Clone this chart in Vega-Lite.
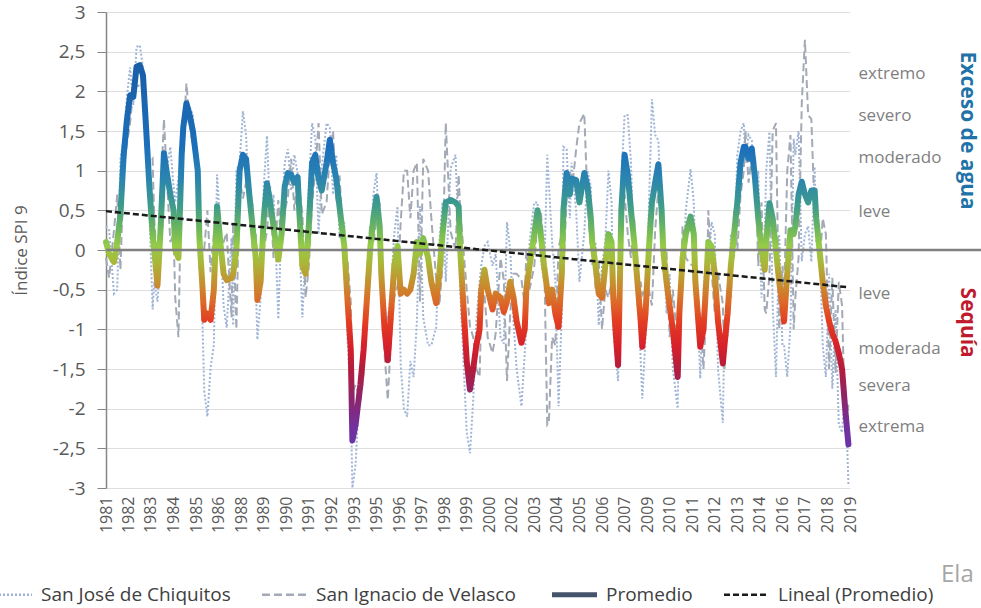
{
"$schema": "https://vega.github.io/schema/vega-lite/v6.json",
"width": 744, "height": 476,
"autosize": "none",
"padding": {"left": 106, "top": 12, "right": 131, "bottom": 120},
"background": "white",
"title": {"text": "Ela", "orient": "bottom", "anchor": "end", "frame": "group", "align": "left", "dx": 91, "offset": -42, "fontSize": 24, "fontWeight": "normal", "color": "#a6a6a6", "font": "Open Sans"},
"data": {"format": {"parse": {"t": "date:'%Y-%m'"}}, "values": [
{"t":"1981-01","p":0.1,"a":0.3,"b":-0.1},
{"t":"1981-03","p":-0.05,"a":0.25,"b":-0.35},
{"t":"1981-06","p":-0.15,"a":-0.55,"b":0.25},
{"t":"1981-08","p":0.1,"a":-0.5,"b":0.7},
{"t":"1981-10","p":0.45,"a":1.15,"b":-0.25},
{"t":"1981-12","p":1.2,"a":1.4,"b":1.0},
{"t":"1982-02","p":1.64,"a":1.94,"b":1.34},
{"t":"1982-04","p":1.95,"a":2.3,"b":1.6},
{"t":"1982-06","p":1.93,"a":1.83,"b":2.03},
{"t":"1982-08","p":2.31,"a":2.56,"b":2.06},
{"t":"1982-10","p":2.33,"a":2.58,"b":2.08},
{"t":"1982-12","p":2.2,"a":2.3,"b":2.1},
{"t":"1983-02","p":1.5,"a":1.8,"b":1.2},
{"t":"1983-04","p":0.8,"a":0.5,"b":1.1},
{"t":"1983-06","p":0.2,"a":-0.75,"b":1.15},
{"t":"1983-07","p":0.0,"a":-0.4,"b":0.4},
{"t":"1983-09","p":-0.45,"a":-0.65,"b":-0.25},
{"t":"1983-11","p":0.3,"a":-0.1,"b":0.7},
{"t":"1984-01","p":1.22,"a":0.79,"b":1.65},
{"t":"1984-03","p":0.95,"a":1.05,"b":0.85},
{"t":"1984-05","p":0.7,"a":1.3,"b":0.1},
{"t":"1984-07","p":0.5,"a":0.8,"b":0.2},
{"t":"1984-08","p":0.0,"a":0.6,"b":-0.6},
{"t":"1984-10","p":-0.1,"a":0.9,"b":-1.1},
{"t":"1984-12","p":1.2,"a":1.3,"b":1.1},
{"t":"1985-01","p":1.55,"a":1.7,"b":1.4},
{"t":"1985-03","p":1.85,"a":1.6,"b":2.1},
{"t":"1985-05","p":1.7,"a":1.8,"b":1.6},
{"t":"1985-07","p":1.5,"a":1.7,"b":1.3},
{"t":"1985-10","p":1.0,"a":0.8,"b":1.2},
{"t":"1985-11","p":0.16,"a":0.56,"b":-0.24},
{"t":"1986-01","p":-0.5,"a":-1.0,"b":0.0},
{"t":"1986-02","p":-0.88,"a":-1.78,"b":0.02},
{"t":"1986-04","p":-0.8,"a":-2.1,"b":0.5},
{"t":"1986-06","p":-0.88,"a":-1.48,"b":-0.28},
{"t":"1986-08","p":-0.5,"a":-1.2,"b":0.2},
{"t":"1986-10","p":0.55,"a":0.95,"b":0.15},
{"t":"1986-12","p":0.1,"a":0.3,"b":-0.1},
{"t":"1987-02","p":-0.3,"a":-0.7,"b":0.1},
{"t":"1987-04","p":-0.38,"a":-0.98,"b":0.22},
{"t":"1987-07","p":-0.35,"a":0.15,"b":-0.85},
{"t":"1987-08","p":-0.3,"a":-0.95,"b":0.35},
{"t":"1987-10","p":0.0,"a":1.0,"b":-1.0},
{"t":"1987-12","p":1.0,"a":1.1,"b":0.9},
{"t":"1988-02","p":1.2,"a":1.75,"b":0.65},
{"t":"1988-04","p":1.15,"a":1.45,"b":0.85},
{"t":"1988-06","p":0.7,"a":0.5,"b":0.9},
{"t":"1988-08","p":0.3,"a":0.6,"b":0.0},
{"t":"1988-10","p":-0.1,"a":-0.4,"b":0.2},
{"t":"1988-11","p":-0.63,"a":-1.13,"b":-0.13},
{"t":"1989-01","p":-0.4,"a":-0.6,"b":-0.2},
{"t":"1989-03","p":0.4,"a":0.8,"b":0.0},
{"t":"1989-05","p":0.84,"a":1.44,"b":0.24},
{"t":"1989-07","p":0.6,"a":0.4,"b":0.8},
{"t":"1989-09","p":0.3,"a":0.7,"b":-0.1},
{"t":"1989-11","p":0.0,"a":-0.3,"b":0.3},
{"t":"1989-12","p":-0.12,"a":-0.87,"b":0.63},
{"t":"1990-02","p":0.2,"a":0.4,"b":0.0},
{"t":"1990-04","p":0.8,"a":1.1,"b":0.5},
{"t":"1990-06","p":0.97,"a":1.27,"b":0.67},
{"t":"1990-08","p":0.95,"a":0.75,"b":1.15},
{"t":"1990-10","p":0.85,"a":1.2,"b":0.5},
{"t":"1990-12","p":0.92,"a":0.97,"b":0.87},
{"t":"1991-01","p":0.5,"a":0.2,"b":0.8},
{"t":"1991-03","p":-0.2,"a":-0.85,"b":0.45},
{"t":"1991-05","p":-0.3,"a":0.0,"b":-0.6},
{"t":"1991-07","p":0.3,"a":0.8,"b":-0.2},
{"t":"1991-09","p":1.1,"a":1.6,"b":0.6},
{"t":"1991-11","p":1.2,"a":1.4,"b":1.0},
{"t":"1992-01","p":0.9,"a":0.2,"b":1.6},
{"t":"1992-03","p":0.75,"a":1.05,"b":0.45},
{"t":"1992-06","p":1.1,"a":1.6,"b":0.6},
{"t":"1992-08","p":1.39,"a":1.54,"b":1.24},
{"t":"1992-10","p":1.1,"a":0.7,"b":1.5},
{"t":"1992-12","p":0.9,"a":1.2,"b":0.6},
{"t":"1993-02","p":0.54,"a":0.14,"b":0.94},
{"t":"1993-05","p":0.05,"a":0.35,"b":-0.25},
{"t":"1993-07","p":-0.63,"a":-1.13,"b":-0.13},
{"t":"1993-09","p":-1.26,"a":-1.86,"b":-0.66},
{"t":"1993-10","p":-2.4,"a":-3.0,"b":-1.8},
{"t":"1993-12","p":-2.2,"a":-2.7,"b":-1.7},
{"t":"1994-03","p":-1.7,"a":-1.5,"b":-1.9},
{"t":"1994-05","p":-1.26,"a":-0.96,"b":-1.56},
{"t":"1994-07","p":-0.63,"a":-0.93,"b":-0.33},
{"t":"1994-09","p":0.0,"a":-0.3,"b":0.3},
{"t":"1994-11","p":0.4,"a":0.7,"b":0.1},
{"t":"1995-01","p":0.67,"a":0.97,"b":0.37},
{"t":"1995-03","p":0.3,"a":0.0,"b":0.6},
{"t":"1995-04","p":-0.3,"a":-0.1,"b":-0.5},
{"t":"1995-06","p":-1.0,"a":-0.7,"b":-1.3},
{"t":"1995-08","p":-1.39,"a":-0.89,"b":-1.89},
{"t":"1995-10","p":-0.8,"a":-0.5,"b":-1.1},
{"t":"1995-12","p":-0.2,"a":0.2,"b":-0.6},
{"t":"1996-02","p":0.05,"a":0.55,"b":-0.45},
{"t":"1996-04","p":-0.55,"a":-1.45,"b":0.35},
{"t":"1996-06","p":-0.5,"a":-2.0,"b":1.0},
{"t":"1996-08","p":-0.55,"a":-2.1,"b":1.0},
{"t":"1996-10","p":-0.5,"a":-1.4,"b":0.4},
{"t":"1996-12","p":-0.3,"a":-1.6,"b":1.0},
{"t":"1997-02","p":0.1,"a":-0.9,"b":1.1},
{"t":"1997-04","p":-0.05,"a":0.55,"b":-0.65},
{"t":"1997-06","p":0.15,"a":-0.85,"b":1.15},
{"t":"1997-09","p":-0.1,"a":-1.2,"b":1.0},
{"t":"1997-11","p":-0.4,"a":-1.2,"b":0.4},
{"t":"1998-02","p":-0.67,"a":-0.97,"b":-0.37},
{"t":"1998-04","p":-0.3,"a":0.1,"b":-0.7},
{"t":"1998-06","p":0.2,"a":0.6,"b":-0.2},
{"t":"1998-08","p":0.6,"a":-0.4,"b":1.6},
{"t":"1998-11","p":0.63,"a":1.03,"b":0.23},
{"t":"1999-02","p":0.6,"a":1.2,"b":0.0},
{"t":"1999-04","p":0.55,"a":0.15,"b":0.95},
{"t":"1999-05","p":0.0,"a":-0.5,"b":0.5},
{"t":"1999-07","p":-0.7,"a":-1.4,"b":0.0},
{"t":"1999-09","p":-1.4,"a":-2.3,"b":-0.5},
{"t":"1999-11","p":-1.76,"a":-2.56,"b":-0.96},
{"t":"2000-01","p":-1.5,"a":-1.9,"b":-1.1},
{"t":"2000-03","p":-1.2,"a":-0.9,"b":-1.5},
{"t":"2000-05","p":-1.0,"a":-0.4,"b":-1.6},
{"t":"2000-06","p":-0.5,"a":-0.2,"b":-0.8},
{"t":"2000-08","p":-0.25,"a":0.05,"b":-0.55},
{"t":"2000-10","p":-0.5,"a":0.1,"b":-1.1},
{"t":"2001-01","p":-0.75,"a":-0.2,"b":-1.3},
{"t":"2001-03","p":-0.55,"a":-0.05,"b":-1.05},
{"t":"2001-06","p":-0.6,"a":-1.1,"b":-0.1},
{"t":"2001-08","p":-0.78,"a":-1.18,"b":-0.38},
{"t":"2001-10","p":-0.65,"a":0.35,"b":-1.65},
{"t":"2001-12","p":-0.4,"a":0.0,"b":-0.8},
{"t":"2002-02","p":-0.6,"a":-0.9,"b":-0.3},
{"t":"2002-04","p":-0.9,"a":-1.5,"b":-0.3},
{"t":"2002-07","p":-1.17,"a":-1.97,"b":-0.37},
{"t":"2002-09","p":-1.0,"a":-1.3,"b":-0.7},
{"t":"2002-10","p":-0.5,"a":-1.0,"b":0.0},
{"t":"2002-12","p":-0.2,"a":0.1,"b":-0.5},
{"t":"2003-03","p":0.2,"a":0.6,"b":-0.2},
{"t":"2003-05","p":0.5,"a":0.6,"b":0.4},
{"t":"2003-07","p":0.2,"a":-0.1,"b":0.5},
{"t":"2003-09","p":-0.2,"a":-0.4,"b":0.0},
{"t":"2003-11","p":-0.5,"a":1.2,"b":-2.2},
{"t":"2003-12","p":-0.67,"a":0.83,"b":-2.17},
{"t":"2004-02","p":-0.5,"a":0.1,"b":-1.1},
{"t":"2004-04","p":-0.8,"a":-0.4,"b":-1.2},
{"t":"2004-06","p":-0.97,"a":-1.97,"b":0.03},
{"t":"2004-08","p":-0.3,"a":-0.8,"b":0.2},
{"t":"2004-09","p":0.5,"a":1.3,"b":-0.3},
{"t":"2004-11","p":0.97,"a":1.27,"b":0.67},
{"t":"2005-01","p":0.7,"a":0.4,"b":1.0},
{"t":"2005-02","p":0.9,"a":1.1,"b":0.7},
{"t":"2005-05","p":0.88,"a":0.48,"b":1.28},
{"t":"2005-07","p":0.6,"a":-0.4,"b":1.6},
{"t":"2005-10","p":0.97,"a":0.22,"b":1.72},
{"t":"2005-12","p":0.8,"a":1.0,"b":0.6},
{"t":"2006-02","p":0.4,"a":0.8,"b":0.0},
{"t":"2006-03","p":0.1,"a":-0.2,"b":0.4},
{"t":"2006-05","p":-0.2,"a":0.1,"b":-0.5},
{"t":"2006-07","p":-0.55,"a":-0.95,"b":-0.15},
{"t":"2006-09","p":-0.6,"a":-0.2,"b":-1.0},
{"t":"2006-11","p":-0.2,"a":0.1,"b":-0.5},
{"t":"2007-01","p":0.2,"a":1.0,"b":-0.6},
{"t":"2007-03","p":0.1,"a":0.6,"b":-0.4},
{"t":"2007-04","p":-0.6,"a":-1.0,"b":-0.2},
{"t":"2007-07","p":-1.45,"a":-1.65,"b":-1.25},
{"t":"2007-08","p":-0.5,"a":-0.2,"b":-0.8},
{"t":"2007-09","p":0.5,"a":0.9,"b":0.1},
{"t":"2007-11","p":1.2,"a":1.7,"b":0.7},
{"t":"2008-01","p":0.95,"a":1.7,"b":0.2},
{"t":"2008-03","p":0.5,"a":1.1,"b":-0.1},
{"t":"2008-05","p":0.1,"a":-0.2,"b":0.4},
{"t":"2008-07","p":-0.4,"a":-0.1,"b":-0.7},
{"t":"2008-09","p":-0.9,"a":-1.4,"b":-0.4},
{"t":"2008-10","p":-1.22,"a":-1.87,"b":-0.57},
{"t":"2008-12","p":-0.8,"a":-1.1,"b":-0.5},
{"t":"2009-02","p":0.0,"a":0.5,"b":-0.5},
{"t":"2009-04","p":0.6,"a":1.9,"b":-0.7},
{"t":"2009-06","p":0.85,"a":1.45,"b":0.25},
{"t":"2009-08","p":1.08,"a":1.38,"b":0.78},
{"t":"2009-10","p":0.5,"a":0.2,"b":0.8},
{"t":"2009-11","p":0.0,"a":0.3,"b":-0.3},
{"t":"2010-01","p":-0.4,"a":-0.8,"b":0.0},
{"t":"2010-03","p":-0.7,"a":-0.3,"b":-1.1},
{"t":"2010-05","p":-1.0,"a":-1.5,"b":-0.5},
{"t":"2010-08","p":-1.6,"a":-2.0,"b":-1.2},
{"t":"2010-09","p":-0.8,"a":-0.5,"b":-1.1},
{"t":"2010-11","p":-0.1,"a":-0.5,"b":0.3},
{"t":"2011-01","p":0.2,"a":0.5,"b":-0.1},
{"t":"2011-04","p":0.42,"a":1.02,"b":-0.18},
{"t":"2011-06","p":0.2,"a":0.6,"b":-0.2},
{"t":"2011-07","p":-0.4,"a":-0.1,"b":-0.7},
{"t":"2011-10","p":-1.22,"a":-1.62,"b":-0.82},
{"t":"2011-12","p":-1.0,"a":-0.5,"b":-1.5},
{"t":"2012-02","p":-0.3,"a":0.0,"b":-0.6},
{"t":"2012-03","p":0.1,"a":-0.3,"b":0.5},
{"t":"2012-05","p":0.05,"a":0.35,"b":-0.25},
{"t":"2012-07","p":-0.3,"a":0.2,"b":-0.8},
{"t":"2012-09","p":-0.9,"a":-1.5,"b":-0.3},
{"t":"2012-12","p":-1.43,"a":-2.18,"b":-0.68},
{"t":"2013-01","p":-1.2,"a":-0.9,"b":-1.5},
{"t":"2013-03","p":-0.8,"a":-1.1,"b":-0.5},
{"t":"2013-05","p":-0.2,"a":0.2,"b":-0.6},
{"t":"2013-07","p":0.2,"a":-0.1,"b":0.5},
{"t":"2013-09","p":0.6,"a":1.2,"b":0.0},
{"t":"2013-11","p":1.1,"a":1.5,"b":0.7},
{"t":"2014-01","p":1.3,"a":1.6,"b":1.0},
{"t":"2014-02","p":1.3,"a":1.1,"b":1.5},
{"t":"2014-04","p":1.15,"a":1.45,"b":0.85},
{"t":"2014-06","p":1.28,"a":1.38,"b":1.18},
{"t":"2014-08","p":0.9,"a":0.6,"b":1.2},
{"t":"2014-10","p":0.4,"a":1.0,"b":-0.2},
{"t":"2014-12","p":0.0,"a":-0.6,"b":0.6},
{"t":"2015-02","p":-0.25,"a":0.25,"b":-0.75},
{"t":"2015-03","p":0.1,"a":1.0,"b":-0.8},
{"t":"2015-05","p":0.59,"a":1.49,"b":-0.31},
{"t":"2015-07","p":0.4,"a":-0.7,"b":1.5},
{"t":"2015-09","p":0.0,"a":-1.6,"b":1.6},
{"t":"2015-11","p":-0.4,"a":0.2,"b":-1.0},
{"t":"2016-01","p":-0.7,"a":-1.2,"b":-0.2},
{"t":"2016-02","p":-0.9,"a":-1.2,"b":-0.6},
{"t":"2016-04","p":-0.3,"a":-1.6,"b":1.0},
{"t":"2016-06","p":0.25,"a":-0.95,"b":1.45},
{"t":"2016-08","p":0.2,"a":1.4,"b":-1.0},
{"t":"2016-09","p":0.3,"a":1.2,"b":-0.6},
{"t":"2016-11","p":0.7,"a":1.5,"b":-0.1},
{"t":"2017-01","p":0.86,"a":-0.14,"b":1.86},
{"t":"2017-03","p":0.7,"a":0.2,"b":2.65},
{"t":"2017-05","p":0.6,"a":0.3,"b":1.7},
{"t":"2017-07","p":0.75,"a":-0.15,"b":1.65},
{"t":"2017-09","p":0.75,"a":1.05,"b":0.45},
{"t":"2017-10","p":0.4,"a":0.1,"b":0.7},
{"t":"2017-12","p":0.0,"a":0.2,"b":-0.2},
{"t":"2018-02","p":-0.4,"a":-1.2,"b":0.4},
{"t":"2018-04","p":-0.7,"a":-1.6,"b":0.2},
{"t":"2018-06","p":-0.9,"a":-0.3,"b":-1.5},
{"t":"2018-08","p":-1.05,"a":-1.75,"b":-0.35},
{"t":"2018-10","p":-1.15,"a":-0.75,"b":-1.55},
{"t":"2018-12","p":-1.3,"a":-2.2,"b":-0.4},
{"t":"2019-02","p":-1.5,"a":-2.3,"b":-0.7},
{"t":"2019-04","p":-2.0,"a":-1.7,"b":-2.3},
{"t":"2019-06","p":-2.45,"a":-2.95,"b":-1.95}
]},
"layer": [
{
 "mark": {"type": "line", "strokeWidth": 2},
 "encoding": {
  "x": {"field": "t", "type": "temporal",
   "scale": {"domain": [{"year": 1981, "month": 1, "date": 1}, {"year": 2019, "month": 7, "date": 1}]},
   "axis": {"orient": "bottom", "values": [{"year":1981,"month":1},{"year":1982,"month":3},{"year":1983,"month":5},{"year":1984,"month":7},{"year":1985,"month":9},{"year":1986,"month":11},{"year":1988,"month":1},{"year":1989,"month":3},{"year":1990,"month":5},{"year":1991,"month":7},{"year":1992,"month":9},{"year":1993,"month":11},{"year":1995,"month":1},{"year":1996,"month":3},{"year":1997,"month":5},{"year":1998,"month":7},{"year":1999,"month":9},{"year":2000,"month":11},{"year":2002,"month":1},{"year":2003,"month":3},{"year":2004,"month":5},{"year":2005,"month":7},{"year":2006,"month":9},{"year":2007,"month":11},{"year":2009,"month":1},{"year":2010,"month":3},{"year":2011,"month":5},{"year":2012,"month":7},{"year":2013,"month":9},{"year":2014,"month":11},{"year":2016,"month":1},{"year":2017,"month":3},{"year":2018,"month":5},{"year":2019,"month":7}],
    "tickCount": 60,
    "format": "%Y", "labelAngle": -90, "labelFontSize": 16, "labelColor": "#595959", "labelPadding": 8, "ticks": false, "tickSize": 0, "domain": false, "grid": false, "title": null, "labelOverlap": false, "labelSeparation": 0, "labelFlush": false, "labelBound": false}},
  "y": {"field": "a", "type": "quantitative", "scale": {"domain": [-3, 3], "nice": false, "zero": false},
   "axis": {"orient": "left", "values": [-3,-2.5,-2,-1.5,-1,-0.5,0,0.5,1,1.5,2,2.5,3], "tickCount": 30, "labelExpr": "replace(toString(datum.value), '.', ',')", "labelFontSize": 19, "labelColor": "#595959", "labelPadding": 12, "tickSize": 9, "tickColor": "#868686", "domainColor": "#868686", "domainWidth": 1.5, "grid": true, "gridColor": "#dedede", "gridWidth": 1.2, "title": "Índice SPI 9", "titleFontSize": 17, "titleFontWeight": "normal", "titleColor": "#595959", "titlePadding": 22, "labelOverlap": false}},
  "color": {"datum": "San José de Chiquitos", "type": "nominal",
   "scale": {"domain": ["San José de Chiquitos", "San Ignacio de Velasco", "Promedio", "Lineal (Promedio)"], "range": ["#9fb4d6", "#a3a9b5", "#44546a", "#1a1a1a"]},
   "legend": {"orient": "none", "legendX": -106, "legendY": 573, "direction": "horizontal", "columns": 4, "title": null}},
  "strokeDash": {"datum": "San José de Chiquitos", "type": "nominal",
   "scale": {"domain": ["San José de Chiquitos", "San Ignacio de Velasco", "Promedio", "Lineal (Promedio)"], "range": [[2, 2], [8, 4], [1, 0], [6, 3]]},
   "legend": {"orient": "none", "legendX": -106, "legendY": 573, "direction": "horizontal", "columns": 4, "title": null}}
 }
},
{
 "mark": {"type": "line", "strokeWidth": 2},
 "encoding": {
  "x": {"field": "t", "type": "temporal"},
  "y": {"field": "b", "type": "quantitative",
   "axis": {"orient": "right", "values": [-0.91], "labelExpr": "'Sequía'", "labelAngle": 90, "labelAlign": "center", "labelBaseline": "bottom", "labelFontSize": 21, "labelFontWeight": "bold", "labelColor": "#c01a2e", "labelPadding": 106, "ticks": false, "tickSize": 0, "domain": false, "grid": false, "title": null, "labelOverlap": false}},
  "color": {"datum": "San Ignacio de Velasco", "type": "nominal"},
  "strokeDash": {"datum": "San Ignacio de Velasco", "type": "nominal"}
 }
},
{
 "mark": {"type": "line", "strokeWidth": 6, "strokeJoin": "round", "strokeCap": "round",
  "stroke": {"gradient": "linear", "x1": 0, "y1": 0, "x2": 0, "y2": 1, "stops": [
   {"offset": 0, "color": "#1a5ea6"},
   {"offset": 0.215, "color": "#1b6fba"},
   {"offset": 0.299, "color": "#2a84b0"},
   {"offset": 0.372, "color": "#3f9c8a"},
   {"offset": 0.435, "color": "#6fb85a"},
   {"offset": 0.477, "color": "#96cb45"},
   {"offset": 0.519, "color": "#a8b83a"},
   {"offset": 0.572, "color": "#c4922f"},
   {"offset": 0.623, "color": "#dc6a28"},
   {"offset": 0.676, "color": "#e33d22"},
   {"offset": 0.738, "color": "#d8212a"},
   {"offset": 0.801, "color": "#b41c3c"},
   {"offset": 0.874, "color": "#8e2468"},
   {"offset": 0.948, "color": "#74309a"},
   {"offset": 1, "color": "#6a34a8"}]}},
 "encoding": {
  "x": {"field": "t", "type": "temporal"},
  "y": {"field": "p", "type": "quantitative", "axis": null}
 }
},
{
 "data": {"format": {"parse": {"t0": "date:'%Y-%m'", "t1": "date:'%Y-%m'"}}, "values": [{"t0": "1981-01", "t1": "2026-06", "z": 0}]},
 "mark": {"type": "rule", "color": "#808080", "strokeWidth": 2.5},
 "encoding": {
  "x": {"field": "t0", "type": "temporal"},
  "x2": {"field": "t1"},
  "y": {"field": "z", "type": "quantitative",
   "axis": {"orient": "right", "values": [2.23, 1.69, 1.17, 0.49, -0.55, -1.24, -1.71, -2.23], "tickCount": 30, "labelExpr": "datum.value > 2 ? 'extremo' : datum.value > 1.5 ? 'severo' : datum.value > 1 ? 'moderado' : datum.value > 0 ? 'leve' : datum.value > -1 ? 'leve' : datum.value > -1.5 ? 'moderada' : datum.value > -2 ? 'severa' : 'extrema'", "labelFontSize": 17, "labelColor": "#7f7f7f", "labelPadding": 8, "ticks": false, "tickSize": 0, "domain": false, "grid": false, "title": null, "labelAlign": "left", "labelOverlap": false}}
 }
},
{
 "data": {"format": {"parse": {"t": "date:'%Y-%m'"}}, "values": [{"t": "1981-01", "v": 0.49}, {"t": "2019-06", "v": -0.47}]},
 "mark": {"type": "line", "strokeWidth": 2.5},
 "encoding": {
  "x": {"field": "t", "type": "temporal"},
  "y": {"field": "v", "type": "quantitative",
   "axis": {"orient": "right", "values": [1.51], "labelExpr": "'Exceso de agua'", "labelAngle": 90, "labelAlign": "center", "labelBaseline": "bottom", "labelFontSize": 21, "labelFontWeight": "bold", "labelColor": "#1f73a8", "labelPadding": 106, "ticks": false, "tickSize": 0, "domain": false, "grid": false, "title": null, "labelOverlap": false}},
  "color": {"datum": "Lineal (Promedio)", "type": "nominal"},
  "strokeDash": {"datum": "Lineal (Promedio)", "type": "nominal"}
 }
}
],
"resolve": {"axis": {"y": "independent"}},
"config": {
 "view": {"stroke": null},
 "font": "Open Sans",
 "axis": {"labelOverlap": false},
 "axisX": {"labelOverlap": false},
 "legend": {"labelFont": "Open Sans", "labelFontSize": 19, "labelColor": "#404040", "symbolType": "stroke", "symbolSize": 2025, "symbolStrokeWidth": {"expr": "datum.value === 'Promedio' ? 5 : 2.5"}, "labelOffset": 22, "columnPadding": 26, "padding": 0, "labelLimit": 400}
}
}
